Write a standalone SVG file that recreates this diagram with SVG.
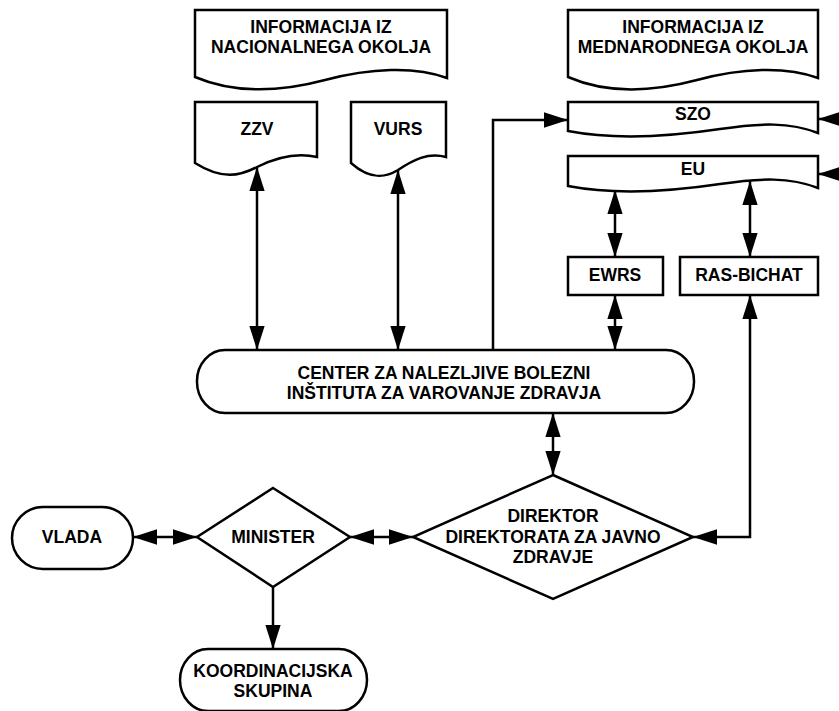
<svg xmlns="http://www.w3.org/2000/svg" width="839" height="711" viewBox="0 0 839 711">
<style>
.s{fill:#fff;stroke:#000;stroke-width:2.5;stroke-linejoin:miter}
.c{fill:none;stroke:#000;stroke-width:2.5}
text{font-family:"Liberation Sans",Arial,sans-serif;font-weight:bold;font-size:17.5px;text-anchor:middle;fill:#000}
</style>
<defs>
<marker id="ah" markerUnits="userSpaceOnUse" markerWidth="24" markerHeight="16" viewBox="0 0 22 14" refX="22" refY="7" orient="auto-start-reverse">
<path d="M0,0 L22,7 L0,14 Z" fill="#000"/>
</marker>
</defs>
<rect width="839" height="711" fill="#fff"/>
<g id="connectors">
<line class="c" x1="257" y1="167" x2="257" y2="350" marker-start="url(#ah)" marker-end="url(#ah)"/>
<line class="c" x1="398" y1="170" x2="398" y2="350" marker-start="url(#ah)" marker-end="url(#ah)"/>
<polyline class="c" points="493,350 493,120 568,120" marker-end="url(#ah)"/>
<line class="c" x1="845" y1="119" x2="818" y2="119" marker-end="url(#ah)"/>
<line class="c" x1="845" y1="174" x2="818" y2="174" marker-end="url(#ah)"/>
<line class="c" x1="615" y1="190" x2="615" y2="257" marker-start="url(#ah)" marker-end="url(#ah)"/>
<line class="c" x1="750" y1="181" x2="750" y2="257" marker-start="url(#ah)" marker-end="url(#ah)"/>
<line class="c" x1="615" y1="295" x2="615" y2="350" marker-start="url(#ah)" marker-end="url(#ah)"/>
<polyline class="c" points="750,295 750,537 693,537" marker-start="url(#ah)" marker-end="url(#ah)"/>
<line class="c" x1="553" y1="413" x2="553" y2="475" marker-start="url(#ah)" marker-end="url(#ah)"/>
<line class="c" x1="350" y1="537" x2="413" y2="537" marker-start="url(#ah)" marker-end="url(#ah)"/>
<line class="c" x1="133" y1="537" x2="197" y2="537" marker-start="url(#ah)" marker-end="url(#ah)"/>
<line class="c" x1="273" y1="587" x2="273" y2="649" marker-end="url(#ah)"/>
</g>
<g id="info-nac">
<path class="s" d="M195,10 H447 V78 C415,66 370,68 325,80 C280,92 235,94 195,77 Z"/>
<text x="321" y="33">INFORMACIJA IZ</text>
<text x="321" y="53">NACIONALNEGA OKOLJA</text>
</g>
<g id="info-med">
<path class="s" d="M568,10 H818 V78 C786,66 741,68 697,80 C652,92 607,94 568,77 Z"/>
<text x="693" y="33">INFORMACIJA IZ</text>
<text x="693" y="53">MEDNARODNEGA OKOLJA</text>
</g>
<g id="zzv">
<path class="s" d="M195,102 H317 V157 C295,152 275,158 257,167 C240,176 222,180 195,163 Z"/>
<text x="257" y="135">ZZV</text>
</g>
<g id="vurs">
<path class="s" d="M351,102 H446 V157 C428,152 413,160 398,170 C385,178 370,180 351,163 Z"/>
<text x="398" y="135">VURS</text>
</g>
<g id="szo">
<path class="s" d="M568,102 H818 V133 C790,122 760,123 720,129 C680,135 620,141 568,131 Z"/>
<text x="693" y="120">SZO</text>
</g>
<g id="eu">
<path class="s" d="M568,156 H818 V188 C790,177 760,178 720,184 C680,190 620,196 568,186 Z"/>
<text x="693" y="175">EU</text>
</g>
<g id="ewrs">
<rect class="s" x="568" y="257" width="95" height="38"/>
<text x="615" y="281">EWRS</text>
</g>
<g id="rasbichat">
<rect class="s" x="680" y="257" width="138" height="38"/>
<text x="749" y="281">RAS-BICHAT</text>
</g>
<g id="center">
<rect class="s" x="197" y="350" width="497" height="63" rx="28" ry="31"/>
<text x="444" y="379">CENTER ZA NALEZLJIVE BOLEZNI</text>
<text x="444" y="399">INŠTITUTA ZA VAROVANJE ZDRAVJA</text>
</g>
<g id="direktor">
<polygon class="s" points="553,475 693,537 553,599 413,537"/>
<text x="553" y="522">DIREKTOR</text>
<text x="553" y="543">DIREKTORATA ZA JAVNO</text>
<text x="553" y="563">ZDRAVJE</text>
</g>
<g id="minister">
<polygon class="s" points="273,488 350,537 273,587 197,537"/>
<text x="273" y="543">MINISTER</text>
</g>
<g id="vlada">
<rect class="s" x="12" y="507" width="121" height="62" rx="31" ry="31"/>
<text x="72" y="543">VLADA</text>
</g>
<g id="koord">
<rect class="s" x="180" y="649" width="187" height="62" rx="28" ry="31"/>
<text x="273" y="677">KOORDINACIJSKA</text>
<text x="273" y="697">SKUPINA</text>
</g>
</svg>
